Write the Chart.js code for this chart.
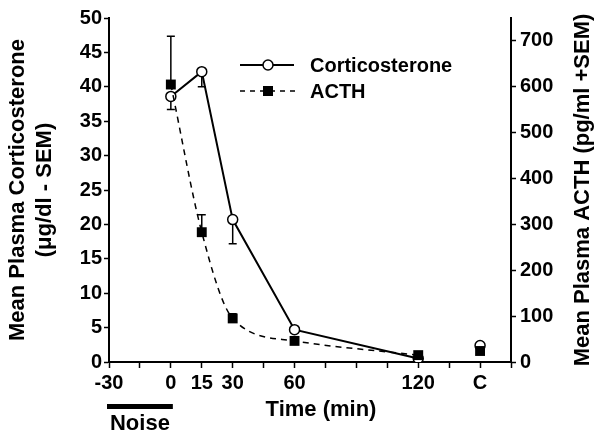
<!DOCTYPE html>
<html>
<head>
<meta charset="utf-8">
<script src="https://cdn.jsdelivr.net/npm/chart.js@4"></script>
<style>
  html, body { margin: 0; padding: 0; background: #fff; }
  #wrap { width: 600px; height: 440px; }
</style>
</head>
<body>
<div id="wrap"><canvas id="chart" width="600" height="440"></canvas></div>
<script>
// ── DATA ──────────────────────────────────────────────────────────────────────
const timeMin      = [0, 15, 30, 60, 120];
const cortMean     = [38.6, 42.2, 20.7, 4.7, 0.5];   // µg/dl
const cortSem      = [1.9, 2.2, 3.5, 0.4, 0.3];      // drawn downward
const acthMean     = [605, 283, 95, 46, 15];         // pg/ml
const acthSem      = [105, 38, 10, 4, 3];            // drawn upward
const controlX     = 150;                            // "C" position on axis
const cortControl  = 2.4;
const cortCtrlSem  = 0.3;
const acthControl  = 24;
const acthCtrlSem  = 5;
const xTickLabels  = { '-30': '-30', '0': '0', '15': '15', '30': '30', '60': '60', '120': '120', '150': 'C' };
const noiseSpan    = [-30, 0];

const FONT = "'Liberation Sans', Arial, sans-serif";
const INK  = '#000';

const pts = (xs, ys) => xs.map((x, i) => ({ x, y: ys[i] }));

// ── ERROR BARS ────────────────────────────────────────────────────────────────
const errorBars = {
  id: 'errorBars',
  beforeDatasetsDraw(chart) {
    const ctx = chart.ctx;
    ctx.save();
    ctx.strokeStyle = INK;
    ctx.lineWidth   = 1.5;
    chart.data.datasets.forEach((ds, di) => {
      if (!ds.errors) return;
      const meta  = chart.getDatasetMeta(di);
      const scale = chart.scales[ds.yAxisID];
      meta.data.forEach((el, i) => {
        const v   = ds.data[i].y + ds.dir * ds.errors[i];
        const y2  = scale.getPixelForValue(v);
        ctx.beginPath();
        ctx.moveTo(el.x, el.y);
        ctx.lineTo(el.x, y2);
        ctx.moveTo(el.x - 4, y2);
        ctx.lineTo(el.x + 4, y2);
        ctx.stroke();
      });
    });
    ctx.restore();
  }
};

// ── TITLES, NOISE BAR, LEGEND ─────────────────────────────────────────────────
function marker(ctx, type, x, y) {
  ctx.save();
  ctx.setLineDash([]);
  ctx.lineWidth = 1.5;
  ctx.strokeStyle = INK;
  if (type === 'circle') {
    ctx.fillStyle = '#fff';
    ctx.beginPath();
    ctx.arc(x, y, 5, 0, Math.PI * 2);
    ctx.fill();
    ctx.stroke();
  } else {
    ctx.fillStyle = INK;
    ctx.fillRect(x - 5, y - 5, 10, 10);
  }
  ctx.restore();
}

const decorations = {
  id: 'decorations',
  afterDraw(chart) {
    const ctx = chart.ctx;
    const xs  = chart.scales.x;
    ctx.save();
    ctx.fillStyle = INK;
    ctx.font = `bold 22px ${FONT}`;
    ctx.textAlign = 'center';
    ctx.textBaseline = 'middle';

    // left title (two lines, bottom-to-top)
    ctx.save();
    ctx.translate(18, 190);
    ctx.rotate(-Math.PI / 2);
    ctx.fillText('Mean Plasma Corticosterone', 0, 0);
    ctx.fillText('(\u03bcg/dl - SEM)', 0, 27);
    ctx.restore();

    // right title
    ctx.save();
    ctx.translate(583, 190);
    ctx.rotate(-Math.PI / 2);
    ctx.fillText('Mean Plasma ACTH (pg/ml +SEM)', 0, 0);
    ctx.restore();

    // x title
    ctx.fillText('Time (min)', 321, 410);

    // noise bar
    const nx0 = xs.getPixelForValue(noiseSpan[0]);
    const nx1 = xs.getPixelForValue(noiseSpan[1]);
    ctx.fillRect(nx0 - 2, 404, nx1 - nx0 + 4, 5);
    ctx.fillText('Noise', (nx0 + nx1) / 2, 424);

    // legend
    ctx.strokeStyle = INK;
    ctx.lineWidth = 2;
    ctx.beginPath();
    ctx.moveTo(240, 65);
    ctx.lineTo(294, 65);
    ctx.stroke();
    marker(ctx, 'circle', 268, 65);

    ctx.lineWidth = 1.5;
    ctx.setLineDash([5, 5]);
    ctx.beginPath();
    ctx.moveTo(240, 91);
    ctx.lineTo(296, 91);
    ctx.stroke();
    ctx.setLineDash([]);
    marker(ctx, 'rect', 268, 91);

    ctx.font = `bold 20px ${FONT}`;
    ctx.textAlign = 'left';
    ctx.fillText('Corticosterone', 310, 66);
    ctx.fillText('ACTH', 310, 92);
    ctx.restore();
  }
};

// ── CHART ─────────────────────────────────────────────────────────────────────
const tickFont = { family: FONT, size: 20, weight: 'bold' };

new Chart(document.getElementById('chart'), {
  type: 'line',
  data: {
    datasets: [
      {
        label: 'ACTH',
        data: pts(timeMin, acthMean),
        yAxisID: 'y2',
        errors: acthSem, dir: 1,
        borderColor: INK,
        borderWidth: 1.5,
        borderDash: [6, 5],
        cubicInterpolationMode: 'monotone',
        pointStyle: 'rect',
        pointRadius: 7,
        pointBackgroundColor: INK,
        pointBorderWidth: 0
      },
      {
        label: 'ACTH control',
        data: [{ x: controlX, y: acthControl }],
        yAxisID: 'y2',
        errors: [acthCtrlSem], dir: 1,
        showLine: false,
        pointStyle: 'rect',
        pointRadius: 7,
        pointBackgroundColor: INK,
        pointBorderWidth: 0
      },
      {
        label: 'Corticosterone',
        data: pts(timeMin, cortMean),
        yAxisID: 'y',
        errors: cortSem, dir: -1,
        borderColor: INK,
        borderWidth: 2,
        tension: 0,
        pointStyle: 'circle',
        pointRadius: 5,
        pointBackgroundColor: '#fff',
        pointBorderColor: INK,
        pointBorderWidth: 1.5
      },
      {
        label: 'Corticosterone control',
        data: [{ x: controlX, y: cortControl }],
        yAxisID: 'y',
        errors: [cortCtrlSem], dir: -1,
        showLine: false,
        pointStyle: 'circle',
        pointRadius: 5,
        pointBackgroundColor: '#fff',
        pointBorderColor: INK,
        pointBorderWidth: 1.5
      }
    ]
  },
  options: {
    responsive: false,
    animation: false,
    layout: { padding: { top: 18, left: 0, right: 0, bottom: 0 } },
    plugins: { legend: { display: false }, tooltip: { enabled: false } },
    scales: {
      x: {
        type: 'linear',
        min: -30, max: 165,
        afterFit: s => { s.height = 78; },
        border: { color: INK, width: 2 },
        grid: { drawOnChartArea: false, color: INK, tickLength: 6, tickWidth: 1.5 },
        ticks: {
          stepSize: 15,
          color: INK,
          font: tickFont,
          padding: 3,
          maxRotation: 0,
          autoSkip: false,
          callback: v => xTickLabels[String(v)] || ''
        }
      },
      y: {
        position: 'left',
        min: 0, max: 50,
        afterFit: s => { s.width = 109; },
        border: { color: INK, width: 2 },
        grid: { drawOnChartArea: false, color: INK, tickLength: 5, tickWidth: 1.5 },
        ticks: { stepSize: 5, color: INK, font: tickFont, padding: 2 }
      },
      y2: {
        position: 'right',
        min: 0, max: 750,
        afterFit: s => { s.width = 89; },
        border: { color: INK, width: 2 },
        grid: { drawOnChartArea: false, color: INK, tickLength: 5, tickWidth: 1.5 },
        ticks: { stepSize: 100, includeBounds: false, color: INK, font: tickFont, padding: 4 }
      }
    }
  },
  plugins: [errorBars, decorations]
});
</script>
</body>
</html>
